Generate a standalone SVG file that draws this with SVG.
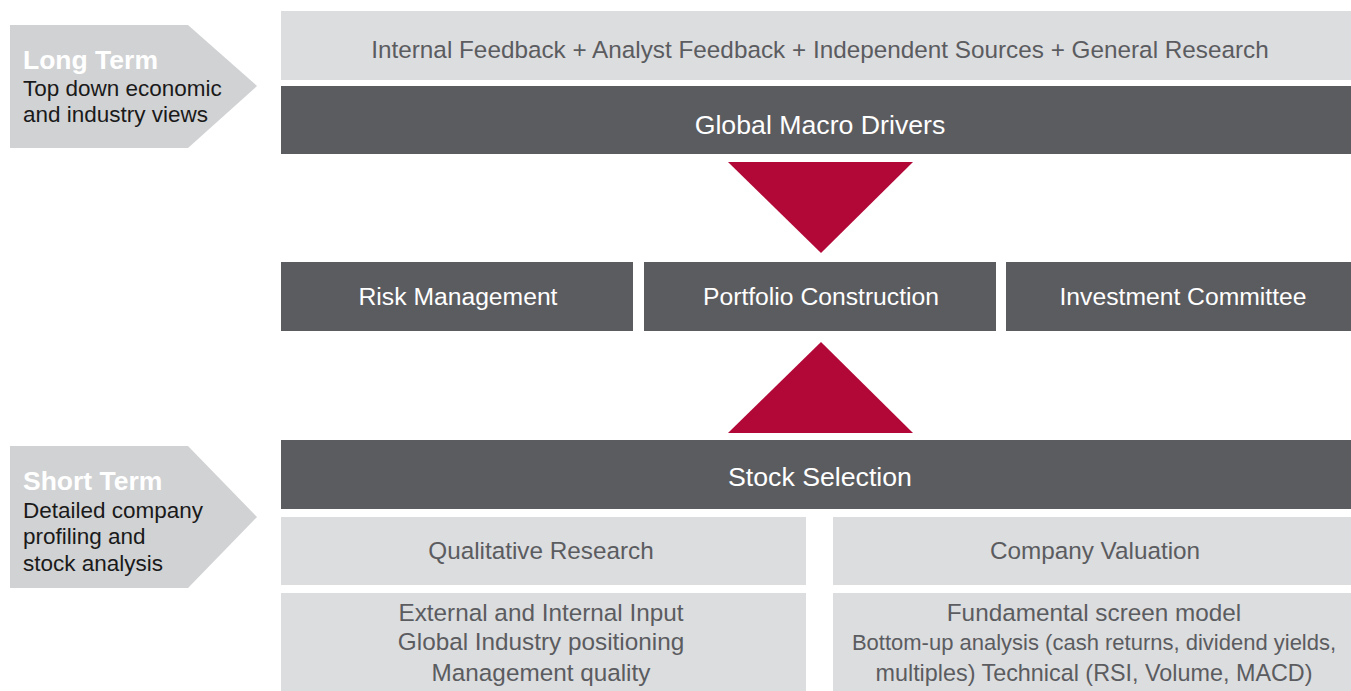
<svg xmlns="http://www.w3.org/2000/svg" width="1351" height="691" viewBox="0 0 1351 691">
<style>
.lt{fill:#dcdddf}
.dk{fill:#5b5c5f}
.tag{fill:#d1d2d4}
.red{fill:#b20838}
text{font-family:"Liberation Sans",Arial,sans-serif;text-anchor:middle}
.tl{font-size:24.3px;fill:#5b5c5f}
.tw{font-size:24.7px;fill:#ffffff}
.big{font-size:26.7px;fill:#ffffff}
.hd{font-size:26.5px;font-weight:bold;fill:#ffffff;text-anchor:start}
.sb{font-size:22.5px;fill:#1a1a1a;text-anchor:start}
</style>
<rect width="1351" height="691" fill="#ffffff"/>
<g id="long-term">
<polygon class="tag" points="10,25 188,25 257,86 188,148 10,148"/>
<text class="hd" x="23" y="69">Long Term</text>
<text class="sb" x="23" y="96">Top down economic</text>
<text class="sb" x="23" y="122">and industry views</text>
</g>
<g id="short-term">
<polygon class="tag" points="10,446 188,446 257,517 188,588 10,588"/>
<text class="hd" x="23" y="490">Short Term</text>
<text class="sb" x="23" y="518">Detailed company</text>
<text class="sb" x="23" y="544">profiling and</text>
<text class="sb" x="23" y="571">stock analysis</text>
</g>
<g id="inputs">
<rect class="lt" x="281" y="11" width="1070" height="69"/>
<text class="tl" x="820" y="58">Internal Feedback + Analyst Feedback + Independent Sources + General Research</text>
</g>
<g id="global-macro">
<rect class="dk" x="281" y="86" width="1070" height="68"/>
<text class="big" x="820" y="133.5">Global Macro Drivers</text>
</g>
<g id="risk-management">
<rect class="dk" x="281" y="262" width="352" height="69"/>
<text class="tw" x="458" y="305">Risk Management</text>
</g>
<g id="portfolio-construction">
<rect class="dk" x="644" y="262" width="352" height="69"/>
<text class="tw" x="821" y="305">Portfolio Construction</text>
</g>
<g id="investment-committee">
<rect class="dk" x="1006" y="262" width="345" height="69"/>
<text class="tw" x="1183" y="305">Investment Committee</text>
</g>
<g id="stock-selection">
<rect class="dk" x="281" y="440" width="1070" height="69"/>
<text class="big" x="820" y="485.5">Stock Selection</text>
</g>
<g id="qualitative-research">
<rect class="lt" x="281" y="517" width="525" height="68"/>
<text class="tl" x="541" y="559">Qualitative Research</text>
</g>
<g id="company-valuation">
<rect class="lt" x="833" y="517" width="518" height="68"/>
<text class="tl" x="1095" y="559">Company Valuation</text>
</g>
<g id="qualitative-detail">
<rect class="lt" x="281" y="593" width="525" height="98"/>
<text class="tl" x="541" y="621">External and Internal Input</text>
<text class="tl" x="541" y="650">Global Industry positioning</text>
<text class="tl" x="541" y="681">Management quality</text>
</g>
<g id="valuation-detail">
<rect class="lt" x="833" y="593" width="518" height="98"/>
<text class="tl" x="1094" y="621">Fundamental screen model</text>
<text class="tl" x="1094" y="650" style="font-size:22px">Bottom-up analysis (cash returns, dividend yields,</text>
<text class="tl" x="1094" y="681" textLength="437" lengthAdjust="spacingAndGlyphs">multiples) Technical (RSI, Volume, MACD)</text>
</g>
<g id="connectors">
<polygon class="red" points="728,162 913,162 821,253"/>
<polygon class="red" points="821,342 913,433 728,433"/>
</g>
</svg>
